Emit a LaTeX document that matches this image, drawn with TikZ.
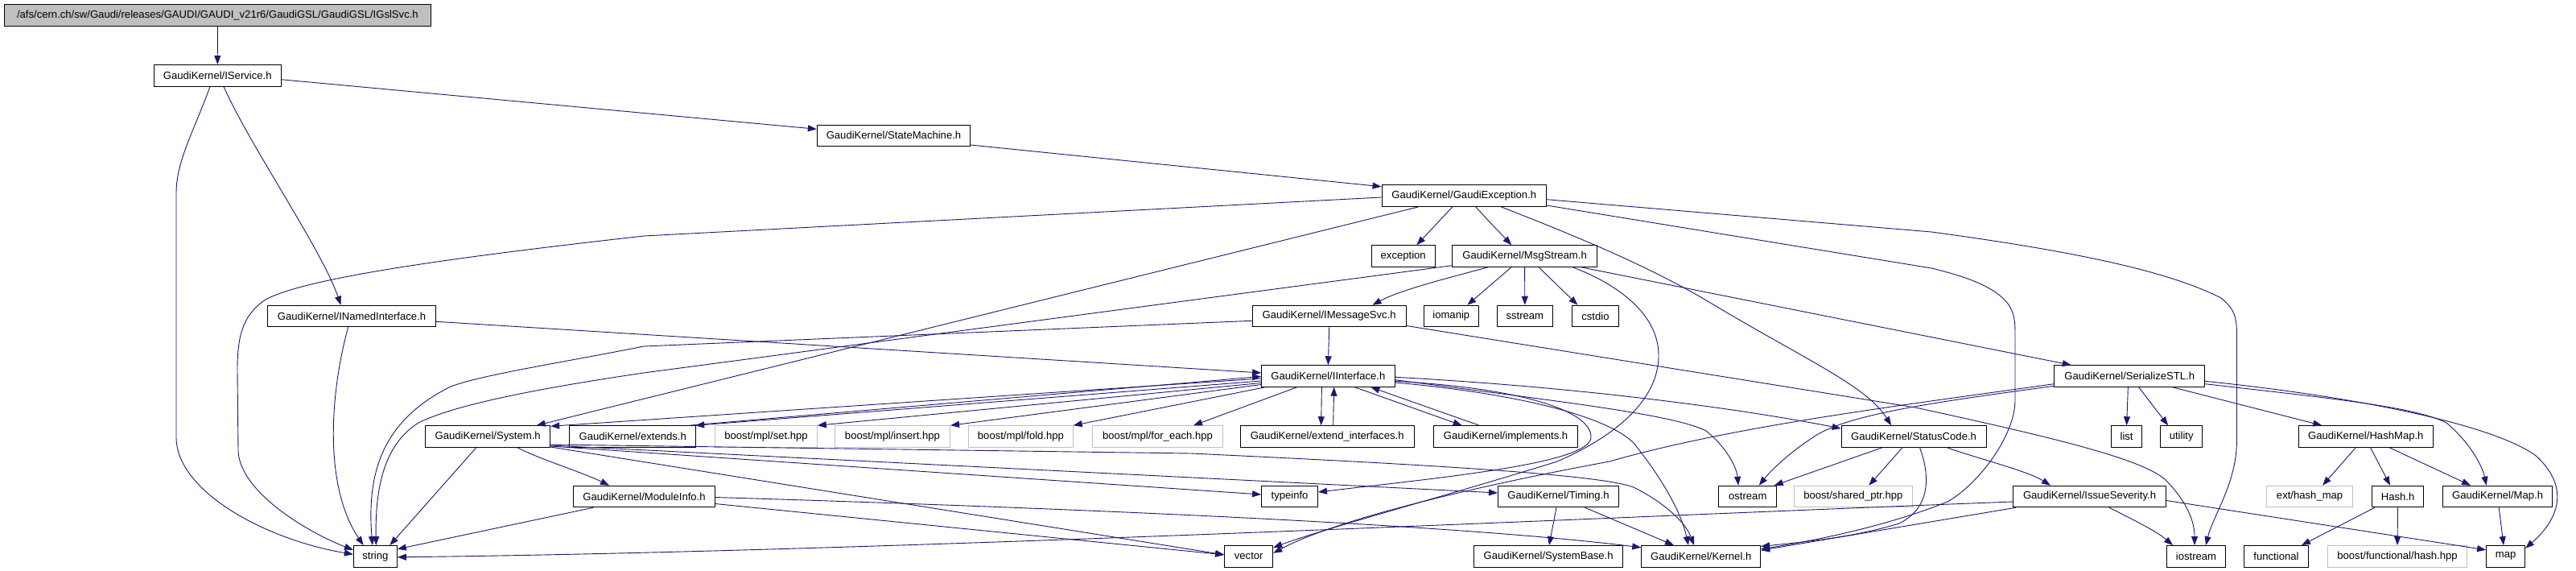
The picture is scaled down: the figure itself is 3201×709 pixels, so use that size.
\documentclass[tikz,border=0pt]{standalone}
\usepackage{fontspec}
\setmainfont{Liberation Sans}
\usetikzlibrary{arrows.meta}
\definecolor{edgecol}{HTML}{191970}
\definecolor{rootgray}{HTML}{BFBFBF}
\definecolor{lightbd}{HTML}{BFBFBF}
\newcommand{\nodefnt}{\fontsize{13.1pt}{15pt}\selectfont}
\tikzset{
  nd/.style={draw=black, line width=0.9pt, inner sep=0pt, minimum height=26.6pt, font=\nodefnt, text=black},
  gnd/.style={nd, draw=lightbd},
  edg/.style={draw=edgecol, line width=0.9pt, -{Triangle[length=11pt,width=8pt]}, edgecol}
}
\begin{document}
\begin{tikzpicture}[x=1pt,y=-1pt]
\useasboundingbox (0,0) rectangle (3201,709);
\fill[white] (0,0) rectangle (3201,709);
% nodes
\node[nd, fill=rootgray, minimum width=530.6pt, minimum height=27.4pt] (root) at (270.4,19) {/afs/cern.ch/sw/Gaudi/releases/GAUDI/GAUDI\_v21r6/GaudiGSL/GaudiGSL/IGslSvc.h};
\node[nd, minimum width=158.5pt] (IS) at (270.25,93.8) {GaudiKernel/IService.h};
\node[nd, minimum width=190.4pt] (SM) at (1110.5,168.3) {GaudiKernel/StateMachine.h};
\node[nd, minimum width=204.5pt] (GE) at (1819.25,243) {GaudiKernel/GaudiException.h};
\node[nd, minimum width=79.4pt] (exc) at (1743.7,318) {exception};
\node[nd, minimum width=179.4pt] (MS) at (1894.6,318) {GaudiKernel/MsgStream.h};
\node[nd, minimum width=208.6pt] (NI) at (437,392.5) {GaudiKernel/INamedInterface.h};
\node[nd, minimum width=191.4pt] (IMS) at (1651.7,392.5) {GaudiKernel/IMessageSvc.h};
\node[nd, minimum width=68pt] (iom) at (1803.3,392.5) {iomanip};
\node[nd, minimum width=69pt] (sst) at (1894.8,392.5) {sstream};
\node[nd, minimum width=58.1pt] (cst) at (1982.45,392.5) {cstdio};
\node[nd, minimum width=165.6pt] (II) at (1650.4,467) {GaudiKernel/IInterface.h};
\node[nd, minimum width=186.9pt] (SS) at (2646.25,467) {GaudiKernel/SerializeSTL.h};
\node[nd, minimum width=155.1pt] (Sys) at (606.15,542) {GaudiKernel/System.h};
\node[nd, minimum width=157pt] (ext) at (786.2,542) {GaudiKernel/extends.h};
\node[gnd, minimum width=126.5pt] (set) at (952.05,542) {boost/mpl/set.hpp};
\node[gnd, minimum width=143.3pt] (ins) at (1108.95,542) {boost/mpl/insert.hpp};
\node[gnd, minimum width=129.7pt] (fold) at (1268.45,542) {boost/mpl/fold.hpp};
\node[gnd, minimum width=162.1pt] (fe) at (1438.45,542) {boost/mpl/for\_each.hpp};
\node[nd, minimum width=216.3pt] (ei) at (1649.15,542) {GaudiKernel/extend\_interfaces.h};
\node[nd, minimum width=179.3pt] (impl) at (1871.05,542) {GaudiKernel/implements.h};
\node[nd, minimum width=179.9pt] (SC) at (2378.05,542) {GaudiKernel/StatusCode.h};
\node[nd, minimum width=38.2pt] (lst) at (2642.6,542) {list};
\node[nd, minimum width=51.9pt] (utl) at (2710.65,542) {utility};
\node[nd, minimum width=167.5pt] (HM) at (2939.75,542) {GaudiKernel/HashMap.h};
\node[nd, minimum width=175.5pt] (MI) at (800.55,616.5) {GaudiKernel/ModuleInfo.h};
\node[nd, minimum width=69.9pt] (ti) at (1602.55,616.5) {typeinfo};
\node[nd, minimum width=150.1pt] (Tim) at (1936.45,616.5) {GaudiKernel/Timing.h};
\node[nd, minimum width=71.7pt] (os) at (2171.75,616.5) {ostream};
\node[gnd, minimum width=147.6pt] (sp) at (2302.8,616.5) {boost/shared\_ptr.hpp};
\node[nd, minimum width=190pt] (ISev) at (2596.5,616.5) {GaudiKernel/IssueSeverity.h};
\node[gnd, minimum width=106.8pt] (ehm) at (2870.1,616.5) {ext/hash\_map};
\node[nd, minimum width=63.9pt] (Hsh) at (2979.55,616.5) {Hash.h};
\node[nd, minimum width=136.2pt] (Map) at (3103.6,616.5) {GaudiKernel/Map.h};
\node[nd, minimum width=54.1pt] (str) at (466.35,690.8) {string};
\node[nd, minimum width=60.2pt] (vec) at (1551.7,690.8) {vector};
\node[nd, minimum width=185.1pt] (SB) at (1924.15,690.8) {GaudiKernel/SystemBase.h};
\node[nd, minimum width=148pt] (Ker) at (2113.7,690.8) {GaudiKernel/Kernel.h};
\node[nd, minimum width=72.8pt] (ios) at (2729,690.8) {iostream};
\node[nd, minimum width=80.1pt] (fun) at (2828.45,690.8) {functional};
\node[gnd, minimum width=172.8pt] (hh) at (2979,690.8) {boost/functional/hash.hpp};
\node[nd, minimum width=48.1pt] (mp) at (3113.55,690.8) {map};
% edges
\draw[edg] (root.south) -- (IS.north);
\draw[edg] ([yshift=-5pt]IS.east) -- ([yshift=8pt]SM.west);
\draw[edg] ([xshift=7.75pt]IS.south) .. controls (310,180) and (400,310) .. ([xshift=-13.5pt]NI.north);
\draw[edg] ([xshift=-9.25pt]IS.south) .. controls (240,165) and (219,200) .. (219,240) -- (219,543) .. controls (219,610) and (330,670) .. ([yshift=2.5pt]str.west);
\draw[edg] ([yshift=-11.7pt]SM.east) -- ([yshift=11.3pt]GE.west);
\draw[edg] ([yshift=-2pt]GE.west) -- (800,293) .. controls (560,320) and (380,345) .. (330,372) .. controls (300,392) and (295,420) .. (295,460) -- (296,560) .. controls (298,610) and (380,660) .. ([yshift=8pt]str.west);
\draw[edg] ([xshift=-56.25pt]GE.south) -- ([xshift=60.5pt]Sys.north);
\draw[edg] ([xshift=-14.3pt]GE.south) -- ([xshift=16.7pt]exc.north);
\draw[edg] ([xshift=14.5pt]GE.south) .. controls (1850,275) and (1865,290) .. ([xshift=-16.5pt]MS.north);
\draw[edg] ([xshift=45.75pt]GE.south) .. controls (1950,290) and (2050,330) .. (2132,380) .. controls (2250,450) and (2320,480) .. ([xshift=-28pt]SC.north);
\draw[edg] ([yshift=-4.7pt]GE.east) -- (2400,288) .. controls (2600,315) and (2700,340) .. (2760,370) .. controls (2778,385) and (2779.5,395) .. (2779.5,420) -- (2779.5,546) .. controls (2779.5,600) and (2750,640) .. ([xshift=12pt]ios.north);
\draw[edg] ([yshift=-12pt]GE.east) -- (2400,333) .. controls (2450,345) and (2480,358) .. (2495,377) .. controls (2504,390) and (2504,400) .. (2504,420) -- (2504,497) .. controls (2504,540) and (2460,600) .. (2420,623) .. controls (2340,655) and (2250,672) .. ([yshift=9pt]Ker.east);
\draw[edg] ([yshift=-6.8pt]NI.east) -- ([yshift=4pt]II.west);
\draw[edg] ([xshift=-4.3pt]NI.south) .. controls (412,480) and (400,600) .. ([xshift=-14.8pt]str.north);
\draw[edg] ([yshift=-11.7pt]MS.west) -- (800,463) .. controls (650,485) and (560,505) .. (520,525) .. controls (480,550) and (466,600) .. ([xshift=1pt]str.north);
\draw[edg] ([xshift=-45.3pt]MS.south) .. controls (1800,345) and (1740,360) .. ([xshift=53.8pt]IMS.north);
\draw[edg] ([xshift=-16.5pt]MS.south) -- ([xshift=20pt]iom.north);
\draw[edg] (MS.south) -- (sst.north);
\draw[edg] ([xshift=17.5pt]MS.south) -- ([xshift=-22pt]cst.north);
\draw[edg] ([xshift=59.4pt]MS.south) .. controls (1990,345) and (2060,380) .. (2061,440) .. controls (2062,500) and (2000,545) .. (1935,573) .. controls (1800,615) and (1650,655) .. ([yshift=11pt]vec.east);
\draw[edg] ([xshift=69.8pt]MS.south) -- ([xshift=-72.5pt]SS.north);
\draw[edg] ([yshift=-5.8pt]IMS.west) -- (800,430) .. controls (700,450) and (600,465) .. (560,480) .. controls (480,520) and (455,580) .. ([xshift=-3.5pt]str.north);
\draw[edg] (IMS.south) -- (II.north);
\draw[edg] ([yshift=-12pt]IMS.east) -- (2380,506) .. controls (2560,545) and (2660,570) .. (2690,595) .. controls (2720,625) and (2727,650) .. ([xshift=-2pt]ios.north);
\draw[edg] ([yshift=-3pt]II.west) -- ([yshift=-1pt]Sys.north east);
\draw[edg] ([yshift=-6pt]II.west) -- ([xshift=-1pt]ext.north east);
\draw[edg] ([xshift=-9pt]ext.north east) -- ([yshift=-0.5pt]II.west);
\draw[edg] ([yshift=-8.5pt]II.west) -- (set.north east);
\draw[edg] ([yshift=-10.5pt]II.west) -- (ins.north east);
\draw[edg] ([xshift=5pt]II.south west) -- (fold.north east);
\draw[edg] ([xshift=-38.7pt]II.south) -- ([xshift=44.5pt]fe.north);
\draw[edg] ([xshift=-8pt]II.south) -- ([xshift=-7.5pt]ei.north);
\draw[edg] ([xshift=7.5pt]ei.north) -- ([xshift=7.3pt]II.south);
\draw[edg] ([xshift=33pt]II.south) -- ([xshift=-54.4pt]impl.north);
\draw[edg] ([xshift=-32.7pt]impl.north) -- ([xshift=53pt]II.south);
\draw[edg] ([yshift=-1.3pt]II.east) .. controls (1950,480) and (2150,505) .. ([yshift=10pt]SC.west);
\draw[edg] ([yshift=-4.7pt]II.east) .. controls (1950,500) and (2080,515) .. (2120,535) .. controls (2145,555) and (2158,580) .. ([xshift=-11.7pt]os.north);
\draw[edg] ([yshift=-6.3pt]II.east) .. controls (1890,482) and (1978,510) .. (1977,543) .. controls (1976,575) and (1800,592) .. ([yshift=5.5pt]ti.east);
\draw[edg] ([yshift=-8pt]II.east) .. controls (1900,490) and (2000,520) .. (2030,550) .. controls (2070,600) and (2090,640) .. ([xshift=-15.7pt]Ker.north);
\draw[edg] ([xshift=-14.3pt]Sys.south) -- ([xshift=18pt]str.north);
\draw[edg] ([xshift=36.8pt]Sys.south) .. controls (670,570) and (720,585) .. ([xshift=-43.5pt]MI.north);
\draw[edg] ([yshift=-12pt]Sys.east) -- ([yshift=2.5pt]ti.west);
\draw[edg] ([yshift=-11pt]Sys.east) -- ([yshift=4.5pt]Tim.west);
\draw[edg] ([yshift=-13pt]Sys.east) -- ([yshift=2pt]vec.west);
\draw[edg] ([yshift=-10pt]Sys.east) -- (1480,563) .. controls (1800,578) and (1990,590) .. (2030,605) .. controls (2070,625) and (2095,650) .. ([xshift=-8.7pt]Ker.north);
\draw[edg] ([xshift=-63.3pt]MI.south) -- ([yshift=9pt]str.east);
\draw[edg] ([yshift=-9pt]MI.east) -- ([yshift=2pt]vec.west);
\draw[edg] ([yshift=-1pt]MI.east) .. controls (1300,630) and (1800,650) .. ([yshift=11pt]Ker.west);
\draw[edg] ([xshift=-2.5pt]Tim.south) -- ([xshift=0.8pt]SB.north);
\draw[edg] ([xshift=33pt]Tim.south) -- ([xshift=-33.7pt]Ker.north);
\draw[edg] ([yshift=-12.3pt]SS.west) .. controls (2400,500) and (2290,515) .. (2250,545) .. controls (2220,565) and (2200,585) .. ([xshift=14pt]os.north);
\draw[edg] ([yshift=-9.7pt]SS.west) .. controls (2350,505) and (2150,530) .. (2000,573) .. controls (1800,610) and (1650,650) .. ([yshift=4pt]vec.east);
\draw[edg] ([xshift=-1.9pt]SS.south) -- (lst.north);
\draw[edg] ([xshift=11.3pt]SS.south) -- ([xshift=-16.5pt]utl.north);
\draw[edg] ([xshift=53.2pt]SS.south) -- ([xshift=-54.5pt]HM.north);
\draw[edg] ([yshift=-9.7pt]SS.east) .. controls (2900,495) and (3000,505) .. (3040,525) .. controls (3070,550) and (3085,580) .. ([xshift=-14pt]Map.north);
\draw[edg] ([yshift=-6.3pt]SS.east) .. controls (2950,495) and (3100,530) .. (3150,565) .. controls (3190,600) and (3185,640) .. ([yshift=10pt]mp.east);
\draw[edg] ([xshift=-39pt]SC.south) -- ([xshift=33pt]os.north);
\draw[edg] ([xshift=-14pt]SC.south) -- ([xshift=19.5pt]sp.north);
\draw[edg] ([xshift=41.2pt]SC.south) .. controls (2460,570) and (2520,585) .. ([xshift=-48.5pt]ISev.north);
\draw[edg] ([xshift=7.5pt]SC.south) .. controls (2398,590) and (2400,630) .. (2360,650) .. controls (2300,668) and (2240,673) .. ([yshift=12.3pt]Ker.east);
\draw[edg] ([yshift=-6.5pt]ISev.west) .. controls (2000,642) and (1100,685) .. ([yshift=-1pt]str.east);
\draw[edg] ([xshift=4pt]ISev.south west) -- ([yshift=7.5pt]Ker.east);
\draw[edg] ([xshift=24.4pt]ISev.south) .. controls (2660,650) and (2680,660) .. ([xshift=-29pt]ios.north);
\draw[edg] ([yshift=-5pt]ISev.east) -- ([yshift=8pt]mp.west);
\draw[edg] ([xshift=-12.5pt]HM.south) -- ([xshift=16pt]ehm.north);
\draw[edg] ([xshift=5.8pt]HM.south) -- ([xshift=-9.5pt]Hsh.north);
\draw[edg] ([xshift=29.3pt]HM.south) -- ([xshift=-33.6pt]Map.north);
\draw[edg] ([xshift=-28.8pt]Hsh.south) -- ([xshift=31.5pt]fun.north);
\draw[edg] (Hsh.south) -- (hh.north);
\draw[edg] ([xshift=1.6pt]Map.south) -- ([xshift=-2.5pt]mp.north);
\end{tikzpicture}
\end{document}
